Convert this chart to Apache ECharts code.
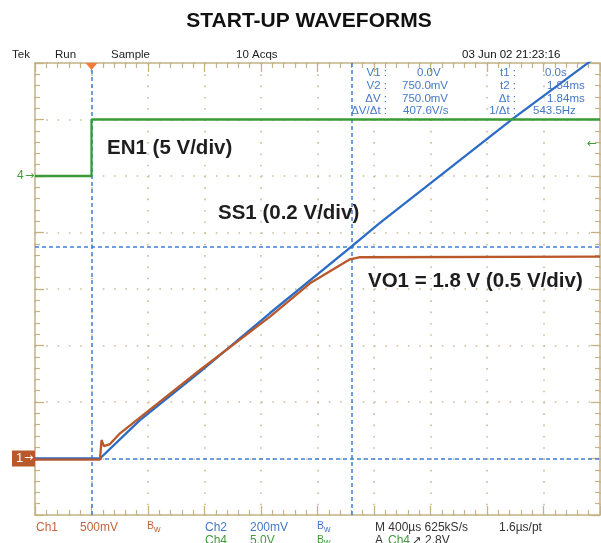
<!DOCTYPE html>
<html>
<head>
<meta charset="utf-8">
<script src="https://cdn.jsdelivr.net/npm/echarts@6/dist/echarts.min.js"></script>
<style>
html, body { margin: 0; padding: 0; background: #fff; }
#main { width: 601px; height: 543px; }
</style>
</head>
<body>
<div id="main"></div>
<script>
// time axis in µs, trigger at 0, 400 µs/div
const timeMin = -400
const timeMax = 3600
const timeDiv = 400

// SS1 on Ch2 (0.2 V/div)
const ss1Time = [-400, 60, 343, 768, 1264, 1840, 2042, 2986, 3506, 3600]
const ss1Volt = [0, 0, 0.136, 0.307, 0.515, 0.75, 0.834, 1.204, 1.397, 1.43]

// VO1 on Ch1 (0.5 V/div)
const vo1Time = [-400, 60, 71, 88, 131, 202, 485, 768, 1264, 1547, 1830, 1901, 3600]
const vo1Volt = [-0.01, -0.01, 0.164, 0.11, 0.128, 0.223, 0.503, 0.783, 1.255, 1.55, 1.763, 1.781, 1.786]

// EN1 on Ch4 (5 V/div)
const en1Time = [-400, 0, 0, 3600]
const en1Volt = [0, 0, 5, 5]

// cursors (time in µs, volts on Ch2) and trigger level on Ch4
const cursorTimes = [0, 1840]
const cursorVolts = [0, 0.75]
const trigLevel = 2.8

// volts/div and ground position (in divisions from centre)
const ch1 = { scale: 0.5, ground: -3 }
const ch2 = { scale: 0.2, ground: -3 }
const ch4 = { scale: 5, ground: 2 }

const tan = '#c4b285'
const dotTan = '#cbbd93'
const cBlue = '#2a6cc6'
const cOrange = '#b9582b'
const cGreen = '#3a9a38'
const tBlue = '#4479c9'
const tOrange = '#c2663c'
const tGreen = '#3f9b3d'
const font = 'Liberation Sans, Arial, sans-serif'
const symFont = 'DejaVu Sans, sans-serif'

const pair = (xs, ys) => xs.map((x, i) => [x, ys[i]])
const chAxis = ch => ({
    type: 'value', show: false,
    min: (-4 - ch.ground) * ch.scale,
    max: (4 - ch.ground) * ch.scale
})

const frameAxis = (pos, grid) => ({
    type: 'value', position: pos,
    axisLine: { show: true, onZero: false, lineStyle: { color: tan, width: 1.5 } },
    axisTick: { show: true, inside: true, length: 9, lineStyle: { color: tan, width: 1.3 } },
    minorTick: { show: true, splitNumber: 5, length: 5, lineStyle: { color: tan, width: 1.2 } },
    axisLabel: { show: false },
    splitLine: grid ? { show: true, lineStyle: { color: dotTan, width: 1.6, type: [1.6, 9.7] } } : { show: false }
})

const xFrame = (pos, grid) => Object.assign(frameAxis(pos, grid), { min: timeMin, max: timeMax, interval: timeDiv })
const yFrame = (pos, grid) => Object.assign(frameAxis(pos, grid), { min: -4, max: 4, interval: 1 })

const lineStyle = color => ({ color: color, width: 2.3 })

const option = {
    animation: false,
    grid: { left: 35, top: 63, width: 565, height: 452, containLabel: false },
    xAxis: [xFrame('bottom', true), xFrame('top', false)],
    yAxis: [yFrame('left', true), yFrame('right', false), chAxis(ch1), chAxis(ch2), chAxis(ch4)],
    series: [
        {
            name: 'SS1', type: 'line', yAxisIndex: 3, symbol: 'none', z: 3,
            data: pair(ss1Time, ss1Volt), lineStyle: lineStyle(cBlue), clip: true,
            markLine: {
                silent: true, symbol: 'none', z: 1,
                label: { show: false },
                lineStyle: { color: '#3f80d8', width: 1.5, type: [4, 3] },
                data: cursorTimes.map(t => ({ xAxis: t })).concat(cursorVolts.map(v => ({ yAxis: v })))
            }
        },
        {
            name: 'VO1', type: 'line', yAxisIndex: 2, symbol: 'none', z: 4,
            data: pair(vo1Time, vo1Volt), lineStyle: lineStyle(cOrange), clip: true
        },
        {
            name: 'EN1', type: 'line', yAxisIndex: 4, symbol: 'none', z: 4,
            data: pair(en1Time, en1Volt), lineStyle: lineStyle(cGreen), clip: true
        }
    ]
}

const chart = echarts.init(document.getElementById('main'))
chart.setOption(option)

// marker positions from the chart's own scales
const y1 = chart.convertToPixel({ yAxisIndex: 2 }, 0)
const y4 = chart.convertToPixel({ yAxisIndex: 4 }, 0)
const yTrig = chart.convertToPixel({ yAxisIndex: 4 }, trigLevel)
const xTrig = chart.convertToPixel({ xAxisIndex: 0 }, 0)
const gridTop = 63

const txt = (text, x, y, fill, size, opts) => ({
    type: 'text', silent: true, z: 20,
    style: {
        text: text, x: x, y: y, fill: fill,
        font: (opts && opts.bold ? 'bold ' : '') + size + 'px ' + ((opts && opts.family) || font),
        textAlign: (opts && opts.align) || 'left',
        textVerticalAlign: 'middle'
    }
})

const bw = (x, y, fill) => [txt('B', x, y - 1, fill, 10.5), txt('w', x + 7, y + 2, fill, 9)]

const readRows = [73, 86, 98.5, 111]
const vLabels = ['V1 :', 'V2 :', 'ΔV :', 'ΔV/Δt :']
const vValues = ['0.0V', '750.0mV', '750.0mV', '407.6V/s']
const vValueX = [417, 402, 402, 403]
const tLabels = ['t1 :', 't2 :', 'Δt :', '1/Δt :']
const tValues = ['0.0s', '1.84ms', '1.84ms', '543.5Hz']
const tValueX = [545, 547, 547, 533]

let graphic = [
    txt('START-UP WAVEFORMS', 309, 21, '#111', 21, { bold: true, align: 'center' }),
    txt('Tek', 12, 55, '#222', 11.5),
    txt('Run', 55, 55, '#222', 11.5),
    txt('Sample', 111, 55, '#222', 11.5),
    txt('10 Acqs', 236, 55, '#222', 11.5),
    txt('03 Jun 02 21:23:16', 462, 55, '#111', 11.5),
    txt('EN1 (5 V/div)', 107, 148, '#1e1e1e', 20.5, { bold: true }),
    txt('SS1 (0.2 V/div)', 218, 213, '#1e1e1e', 20.5, { bold: true }),
    txt('VO1 = 1.8 V (0.5 V/div)', 368, 281, '#1e1e1e', 20.5, { bold: true }),
    txt('Ch1', 36, 527.5, tOrange, 12),
    txt('500mV', 80, 527.5, tOrange, 12),
    txt('Ch2', 205, 527.5, tBlue, 12),
    txt('200mV', 250, 527.5, tBlue, 12),
    txt('M 400µs 625kS/s', 375, 527.5, '#333', 12),
    txt('1.6µs/pt', 499, 527.5, '#333', 12),
    txt('Ch4', 205, 541, tGreen, 12),
    txt('5.0V', 250, 541, tGreen, 12),
    txt('A', 375, 541, '#333', 12),
    txt('Ch4', 388, 541, tGreen, 12),
    txt('↗', 412, 541, '#333', 11, { family: symFont }),
    txt('2.8V', 425, 541, '#333', 12)
]
graphic = graphic.concat(bw(147, 527.5, tOrange), bw(317, 527.5, tBlue), bw(317, 541, tGreen))
readRows.forEach((y, i) => {
    graphic.push(txt(vLabels[i], 387, y, tBlue, 11.5, { align: 'right' }))
    graphic.push(txt(vValues[i], vValueX[i], y, tBlue, 11.5))
    graphic.push(txt(tLabels[i], 516, y, tBlue, 11.5, { align: 'right' }))
    graphic.push(txt(tValues[i], tValueX[i], y, tBlue, 11.5))
})

// channel ground / trigger indicators
graphic.push(
    { type: 'rect', silent: true, z: 19, shape: { x: 12, y: y1 - 8, width: 23, height: 16 }, style: { fill: cOrange } },
    txt('1', 16, y1, '#fff', 13),
    txt('→', 24, y1, '#fff', 11, { family: symFont }),
    txt('4', 17, y4, tGreen, 12),
    txt('→', 25, y4, tGreen, 11, { family: symFont }),
    txt('←', 587, yTrig, tGreen, 12, { family: symFont }),
    { type: 'polygon', silent: true, z: 20,
      shape: { points: [[xTrig - 6, gridTop], [xTrig + 6, gridTop], [xTrig, gridTop + 7]] },
      style: { fill: '#f07d3c' } }
)

chart.setOption({ graphic: graphic })
</script>
</body>
</html>
